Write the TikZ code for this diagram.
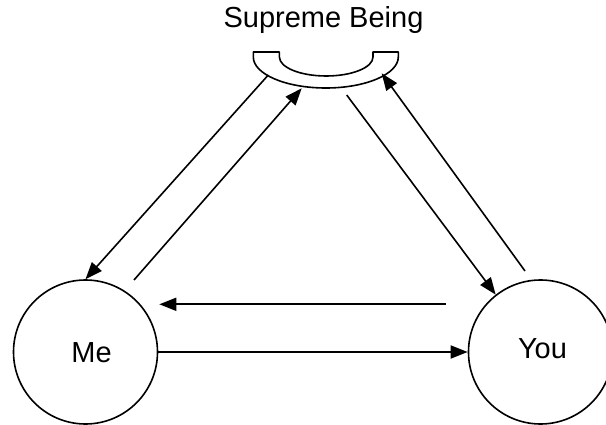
\documentclass[tikz,border=0pt]{standalone}
\usepackage{fontspec}
\setmainfont{Liberation Sans}
\usetikzlibrary{arrows.meta}
\begin{document}
\begin{tikzpicture}[x=1pt,y=-1pt,
  every node/.style={font=\fontsize{29}{32}\selectfont},
  ent/.style={draw,circle,line width=1.6pt,minimum size=144pt,inner sep=0pt},
  lbl/.style={inner sep=0pt},
  conn/.style={line width=1.6pt,-{Triangle[length=17pt,width=13pt]}}]
\useasboundingbox (0,0) rectangle (606,425);
% Supreme Being cup
\draw[line width=1.6pt,line join=round]
  (253.3,52) -- (253.3,57) arc[start angle=180,end angle=360,x radius=72.5pt,y radius=31pt]
  -- (398.3,52) -- (373,52) -- (373,57)
  arc[start angle=360,end angle=180,x radius=46.8pt,y radius=19pt]
  -- (279.4,52) -- cycle;
\node[lbl,anchor=base] (sb) at (323.5,28) {Supreme Being};
\node[ent] (Me) at (85.5,352) {};
\node[ent] (You) at (540.5,352) {};
\node[lbl] (meText) at (91.5,353) {Me};
\node[lbl] (youText) at (542.5,349) {You};
% connector end points
\coordinate (arcA) at (268.3,75);
\coordinate (arcB) at (301.7,88.3);
\coordinate (arcC) at (346.7,95);
\coordinate (arcD) at (381.7,73.3);
\coordinate (meOut) at (134,280);
\coordinate (youOut) at (525,271);
\coordinate (youH) at (445.7,304.3);
\coordinate (meH) at (159.3,304.3);
\draw[conn] (arcA) -- (Me.north);
\draw[conn] (meOut) -- (arcB);
\draw[conn] (arcC) -- (You.128);
\draw[conn] (youOut) -- (arcD);
\draw[conn] (youH) -- (meH);
\draw[conn] (Me.east) -- (You.west);
\end{tikzpicture}
\end{document}
